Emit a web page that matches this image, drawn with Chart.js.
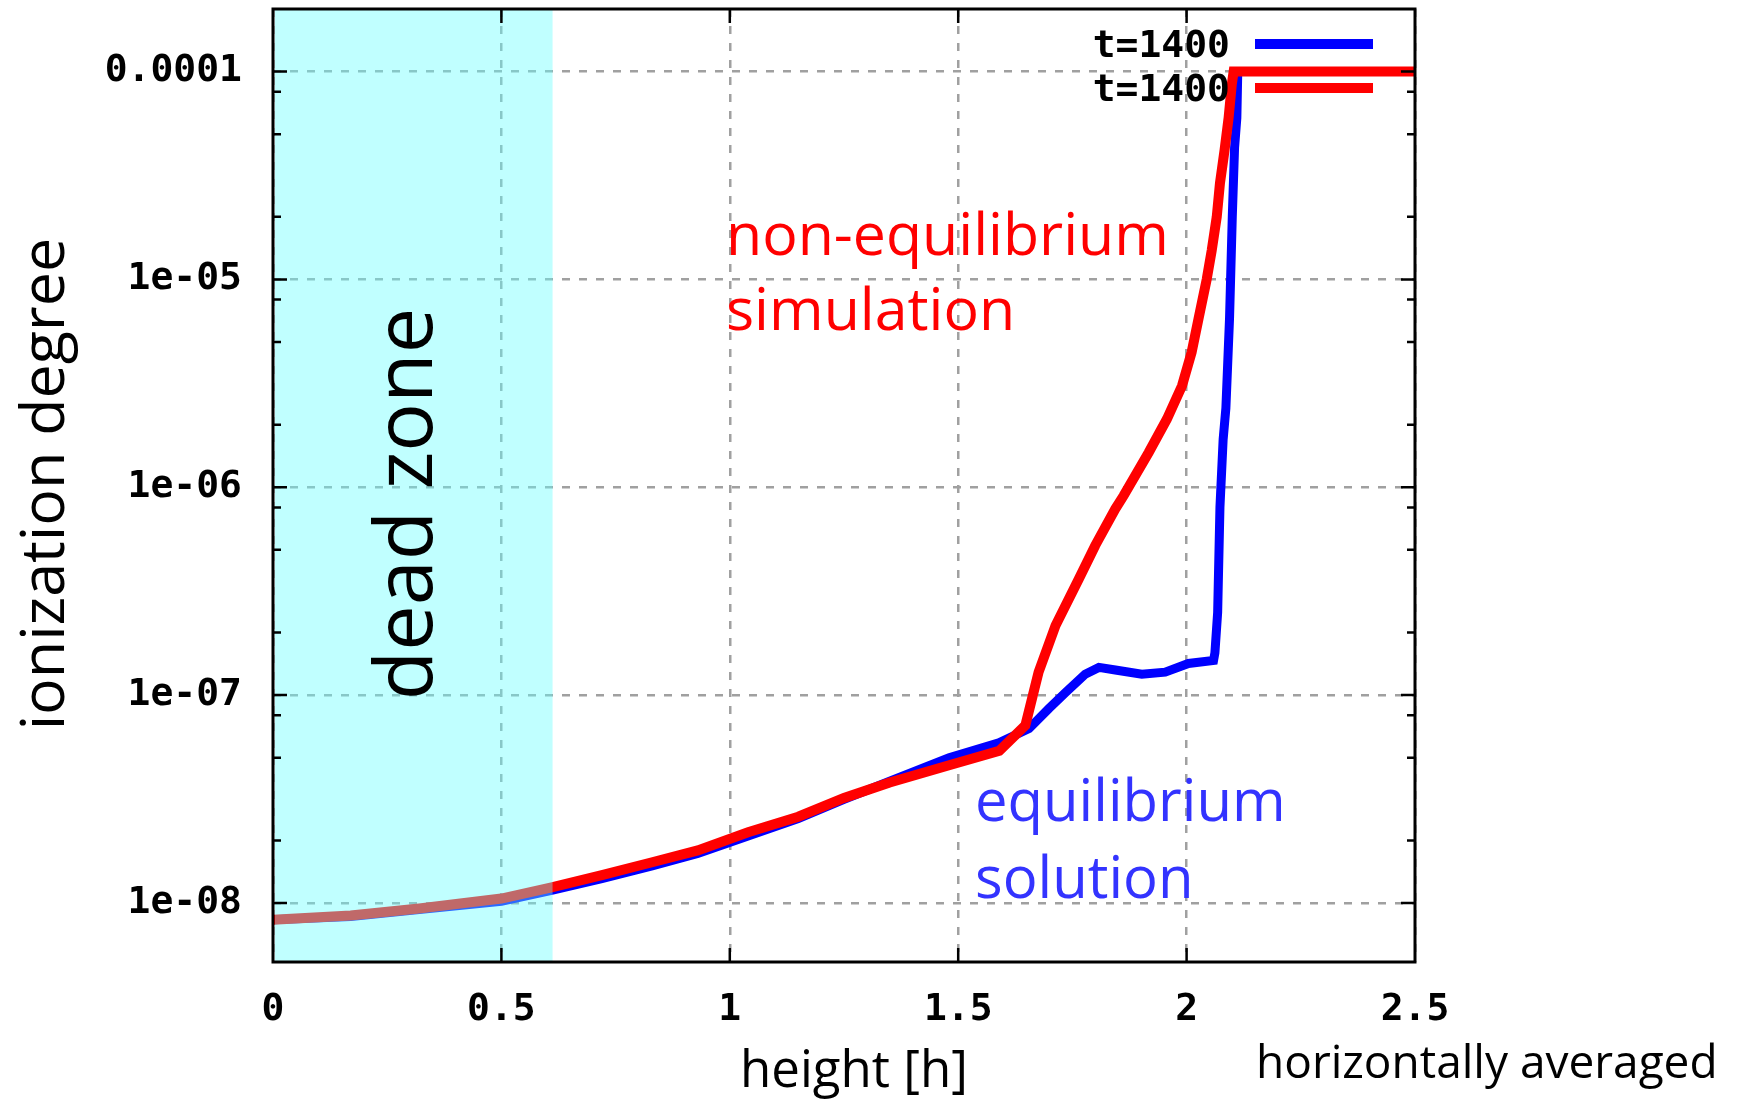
<!DOCTYPE html>
<html>
<head>
<meta charset="utf-8">
<script src="https://cdn.jsdelivr.net/npm/chart.js@4"></script>
<style>
  html, body { margin: 0; padding: 0; background: #fff; }
  #wrap { width: 1738px; height: 1100px; }
</style>
</head>
<body>
<div id="wrap"><canvas id="ionChart" width="1738" height="1100"></canvas></div>
<script>
// values
const heightRed = [0, 0.17, 0.32, 0.5, 0.61, 0.72, 0.83, 0.93, 1.04, 1.15, 1.25, 1.35, 1.48, 1.59,
  1.647, 1.676, 1.713, 1.764, 1.80, 1.844, 1.862, 1.917, 1.957, 1.990, 2.011, 2.026, 2.044, 2.055,
  2.066, 2.073, 2.083, 2.092, 2.099, 2.103, 2.5];
const ionRed = [8.3e-9, 8.7e-9, 9.4e-9, 1.05e-8, 1.19e-8, 1.36e-8, 1.57e-8, 1.79e-8, 2.19e-8, 2.6e-8,
  3.2e-8, 3.8e-8, 4.6e-8, 5.4e-8, 7.15e-8, 1.29e-7, 2.16e-7, 3.62e-7, 5.25e-7, 7.87e-7, 9.1e-7,
  1.47e-6, 2.13e-6, 3.08e-6, 4.46e-6, 6.45e-6, 1.0e-5, 1.38e-5, 2.0e-5, 2.9e-5, 4.17e-5, 6.0e-5,
  8.7e-5, 1e-4, 1e-4];

const heightBlue = [0, 0.17, 0.32, 0.5, 0.61, 0.72, 0.83, 0.93, 1.04, 1.15, 1.25, 1.35, 1.48, 1.589,
  1.655, 1.698, 1.735, 1.778, 1.808, 1.844, 1.902, 1.953, 2.004, 2.059, 2.062, 2.068, 2.073, 2.080,
  2.086, 2.094, 2.100, 2.105, 2.110, 2.112, 2.5];
const ionBlue = [8.3e-9, 8.6e-9, 9.3e-9, 1.02e-8, 1.15e-8, 1.31e-8, 1.51e-8, 1.73e-8, 2.1e-8, 2.55e-8,
  3.15e-8, 3.85e-8, 5.0e-8, 5.9e-8, 6.9e-8, 8.6e-8, 1.03e-7, 1.26e-7, 1.36e-7, 1.32e-7, 1.26e-7,
  1.29e-7, 1.42e-7, 1.47e-7, 1.6e-7, 2.5e-7, 8e-7, 1.7e-6, 2.4e-6, 6.5e-6, 2.0e-5, 4.3e-5, 6.0e-5,
  1e-4, 1e-4];

const xTicks = [0, 0.5, 1, 1.5, 2, 2.5];
const xTickLabels = ["0", "0.5", "1", "1.5", "2", "2.5"];
const yTicks = [1e-8, 1e-7, 1e-6, 1e-5, 1e-4];
const yTickLabels = ["1e-08", "1e-07", "1e-06", "1e-05", "0.0001"];
const yMinorTicks = [2e-8, 5e-8, 8e-8, 2e-7, 5e-7, 8e-7, 2e-6, 5e-6, 8e-6, 2e-5, 5e-5, 8e-5];
const deadZone = [0, 0.612];
const seriesLabels = ["t=1400", "t=1400"];

const monoFont = "'DejaVu Sans Mono', monospace";
const handFont = "'Comic Sans MS', 'Open Sans', sans-serif";

function toPoints(xs, ys) {
  return xs.map((x, i) => ({ x: x, y: ys[i] }));
}

// font size so the text fills the given width
function fitSize(ctx, text, width, family) {
  ctx.font = "100px " + family;
  return Math.round((100 * width) / ctx.measureText(text).width);
}

function noScalePadding(scale) {
  scale.paddingTop = 0;
  scale.paddingBottom = 0;
  scale.paddingLeft = 0;
  scale.paddingRight = 0;
}

// dead zone, frame, inner ticks, legend
const gnuplotLook = {
  id: "gnuplotLook",
  afterDatasetsDraw(chart) {
    const ctx = chart.ctx;
    const a = chart.chartArea;
    const xs = chart.scales.x;
    const ys = chart.scales.y;

    ctx.save();
    ctx.fillStyle = "rgba(102,255,255,0.41)";
    const x0 = xs.getPixelForValue(deadZone[0]) + 2;
    const x1 = xs.getPixelForValue(deadZone[1]);
    ctx.fillRect(x0, a.top + 1, x1 - x0, a.bottom - a.top - 2);

    ctx.strokeStyle = "#000";
    ctx.lineWidth = 3;
    ctx.strokeRect(a.left, a.top, a.right - a.left, a.bottom - a.top);

    ctx.lineWidth = 2.5;
    ctx.beginPath();
    yTicks.forEach((v) => {
      const y = ys.getPixelForValue(v);
      ctx.moveTo(a.left, y); ctx.lineTo(a.left + 14, y);
      ctx.moveTo(a.right, y); ctx.lineTo(a.right - 14, y);
    });
    yMinorTicks.forEach((v) => {
      const y = ys.getPixelForValue(v);
      ctx.moveTo(a.left, y); ctx.lineTo(a.left + 8, y);
      ctx.moveTo(a.right, y); ctx.lineTo(a.right - 8, y);
    });
    xTicks.slice(1, -1).forEach((v) => {
      const x = xs.getPixelForValue(v);
      ctx.moveTo(x, a.bottom); ctx.lineTo(x, a.bottom - 14);
      ctx.moveTo(x, a.top); ctx.lineTo(x, a.top + 14);
    });
    ctx.stroke();

    // legend: label on the left, line sample on the right
    ctx.font = "bold 38px " + monoFont;
    ctx.textAlign = "right";
    ctx.textBaseline = "middle";
    chart.data.datasets.forEach((ds, i) => {
      const y = 46 + i * 44;
      ctx.fillStyle = "#000";
      ctx.fillText(ds.label, 1230, y + 1);
      ctx.strokeStyle = ds.borderColor;
      ctx.lineWidth = 10;
      ctx.beginPath();
      ctx.moveTo(1255, y - 2);
      ctx.lineTo(1373, y - 2);
      ctx.stroke();
    });
    ctx.restore();
  },
  afterDraw(chart) {
    const ctx = chart.ctx;
    ctx.save();
    ctx.textBaseline = "alphabetic";

    // axis titles
    ctx.fillStyle = "#000";
    let s = fitSize(ctx, "ionization degree", 496, handFont);
    ctx.font = s + "px " + handFont;
    ctx.textAlign = "center";
    ctx.save();
    ctx.translate(64, 484);
    ctx.rotate(-Math.PI / 2);
    ctx.fillText("ionization degree", 0, 0);
    ctx.restore();

    s = fitSize(ctx, "height [h]", 228, handFont);
    ctx.font = s + "px " + handFont;
    ctx.fillText("height [h]", 854, 1087);

    s = fitSize(ctx, "horizontally averaged", 464, handFont);
    ctx.font = s + "px " + handFont;
    ctx.textAlign = "left";
    ctx.fillText("horizontally averaged", 1256, 1078);

    // dead zone label
    s = fitSize(ctx, "dead zone", 392, handFont);
    ctx.font = s + "px " + handFont;
    ctx.textAlign = "center";
    ctx.save();
    ctx.translate(432, 504);
    ctx.rotate(-Math.PI / 2);
    ctx.fillText("dead zone", 0, 0);
    ctx.restore();

    // curve annotations
    ctx.textAlign = "left";
    ctx.fillStyle = "#ff0000";
    s = fitSize(ctx, "non-equilibrium", 443, handFont);
    ctx.font = s + "px " + handFont;
    ctx.fillText("non-equilibrium", 726, 255);
    ctx.fillText("simulation", 726, 330);

    ctx.fillStyle = "#3333ff";
    s = fitSize(ctx, "equilibrium", 313, handFont);
    ctx.font = s + "px " + handFont;
    ctx.fillText("equilibrium", 975, 821);
    ctx.fillText("solution", 975, 898);
    ctx.restore();
  },
};

const ctx = document.getElementById("ionChart").getContext("2d");
new Chart(ctx, {
  type: "line",
  data: {
    datasets: [
      {
        label: seriesLabels[0],
        data: toPoints(heightBlue, ionBlue),
        borderColor: "#0000ff",
        borderWidth: 9,
        pointRadius: 0,
        tension: 0,
        order: 1,
        clip: 8,
      },
      {
        label: seriesLabels[1],
        data: toPoints(heightRed, ionRed),
        borderColor: "#ff0000",
        borderWidth: 10,
        pointRadius: 0,
        tension: 0,
        order: 0,
        clip: 8,
      },
    ],
  },
  options: {
    responsive: false,
    animation: false,
    events: [],
    layout: { padding: { left: 0, top: 9, right: 323, bottom: 0 } },
    plugins: { legend: { display: false }, tooltip: { enabled: false } },
    scales: {
      x: {
        type: "linear",
        min: 0,
        max: 2.5,
        afterBuildTicks: (scale) => { scale.ticks = xTicks.map((v) => ({ value: v })); },
        afterFit: (scale) => { scale.height = 138; noScalePadding(scale); },
        ticks: {
          autoSkip: false,
          maxRotation: 0,
          padding: 25,
          color: "#000",
          font: { family: monoFont, size: 38, weight: "bold" },
          callback: (v, i) => xTickLabels[i],
        },
        grid: { color: "#a0a0a0", lineWidth: 2.5, drawTicks: false },
        border: { display: false, dash: [8, 9] },
      },
      y: {
        type: "logarithmic",
        min: 5.2e-9,
        max: 2e-4,
        afterBuildTicks: (scale) => { scale.ticks = yTicks.map((v) => ({ value: v })); },
        afterFit: (scale) => { scale.width = 273; noScalePadding(scale); },
        ticks: {
          autoSkip: false,
          padding: 31,
          color: "#000",
          font: { family: monoFont, size: 38, weight: "bold" },
          callback: (v, i) => yTickLabels[i],
        },
        grid: { color: "#a0a0a0", lineWidth: 2.5, drawTicks: false },
        border: { display: false, dash: [8, 9] },
      },
    },
  },
  plugins: [gnuplotLook],
});
</script>
</body>
</html>
